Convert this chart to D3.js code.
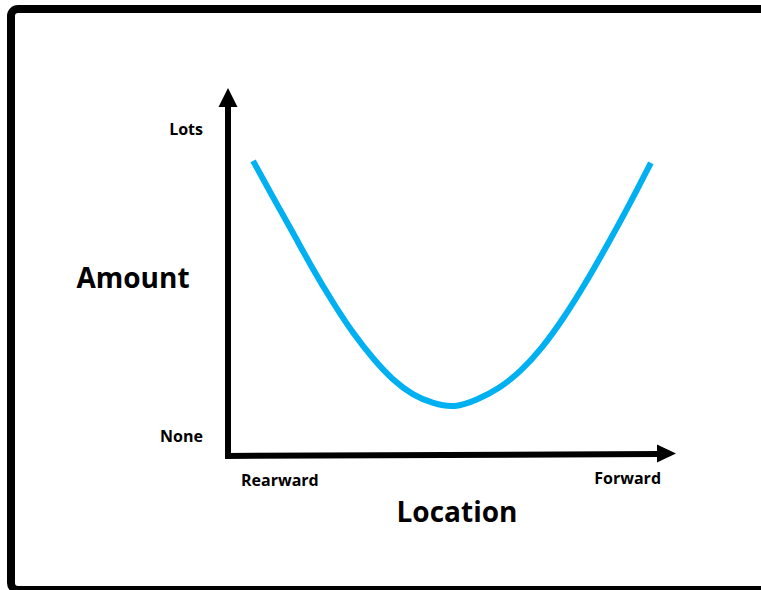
<!DOCTYPE html>
<html><head><meta charset="utf-8">
<script src="https://cdn.jsdelivr.net/npm/d3@7"></script>
<style>html,body{margin:0;padding:0;background:#fff;overflow:hidden;}svg{display:block;}</style>
</head><body>
<svg id="c" width="761" height="590"></svg>
<script>
// Data (location 0-100, amount 0-100)
const locations = [5.7,10.2,14.8,19.3,23.9,28.4,33.0,37.5,42.0,46.6,51.6,56.5,61.5,66.4,71.4,76.3,81.3,86.2,91.2,96.1];
const amounts   = [90.0,79.0,68.1,57.0,46.8,37.6,29.8,23.3,18.8,16.2,14.9,17.3,20.7,25.8,33.1,42.2,52.9,64.4,76.6,89.4];
const xTickLabels = ["Rearward","Forward"];
const yTickLabels = ["None","Lots"];
const xTitle = "Location";
const yTitle = "Amount";

const svg = d3.select("#c");
const font = "'Open Sans', 'DejaVu Sans', sans-serif";

// frame
svg.append("rect").attr("x",11).attr("y",9).attr("width",900).attr("height",581)
  .attr("rx",7).attr("fill","none").attr("stroke","#000").attr("stroke-width",8);

const x = d3.scaleLinear().domain([0,100]).range([228,668]);
const y = d3.scaleLinear().domain([0,100]).range([457,128]);

// axes
const axisY0 = y(0)-1;
svg.append("line").attr("x1",x(0)).attr("x2",x(0)).attr("y1",axisY0+3).attr("y2",104)
  .attr("stroke","#000").attr("stroke-width",6);
svg.append("line").attr("x1",x(0)-3).attr("x2",660).attr("y1",axisY0).attr("y2",axisY0-2)
  .attr("stroke","#000").attr("stroke-width",6);
svg.append("path").attr("d",`M${x(0)},88 L${x(0)-9.5},107 L${x(0)+9.5},107 Z`).attr("fill","#000");
svg.append("path").attr("d",`M676,${axisY0-2.5} L657,${axisY0-11.5} L657,${axisY0+6.5} Z`).attr("fill","#000");

// curve
const pts = locations.map((l,i)=>[l,amounts[i]]);
svg.append("path").datum(pts)
  .attr("d", d3.line().x(d=>x(d[0])).y(d=>y(d[1])).curve(d3.curveBasis))
  .attr("fill","none").attr("stroke","#00b0f0").attr("stroke-width",6);

// labels
function txt(s,px,py,size,anchor){
  svg.append("text").attr("x",px).attr("y",py).attr("font-family",font).attr("font-weight",700)
    .attr("font-size",size).attr("text-anchor",anchor||"start").attr("fill","#000").text(s);
}
txt(yTickLabels[1],203,135,16,"end");
txt(yTickLabels[0],203,442,16,"end");
txt(xTickLabels[0],241,486,16,"start");
txt(xTickLabels[1],661,484,16,"end");
txt(yTitle,133,288,28,"middle");
txt(xTitle,457,522,28,"middle");
</script>
</body></html>
